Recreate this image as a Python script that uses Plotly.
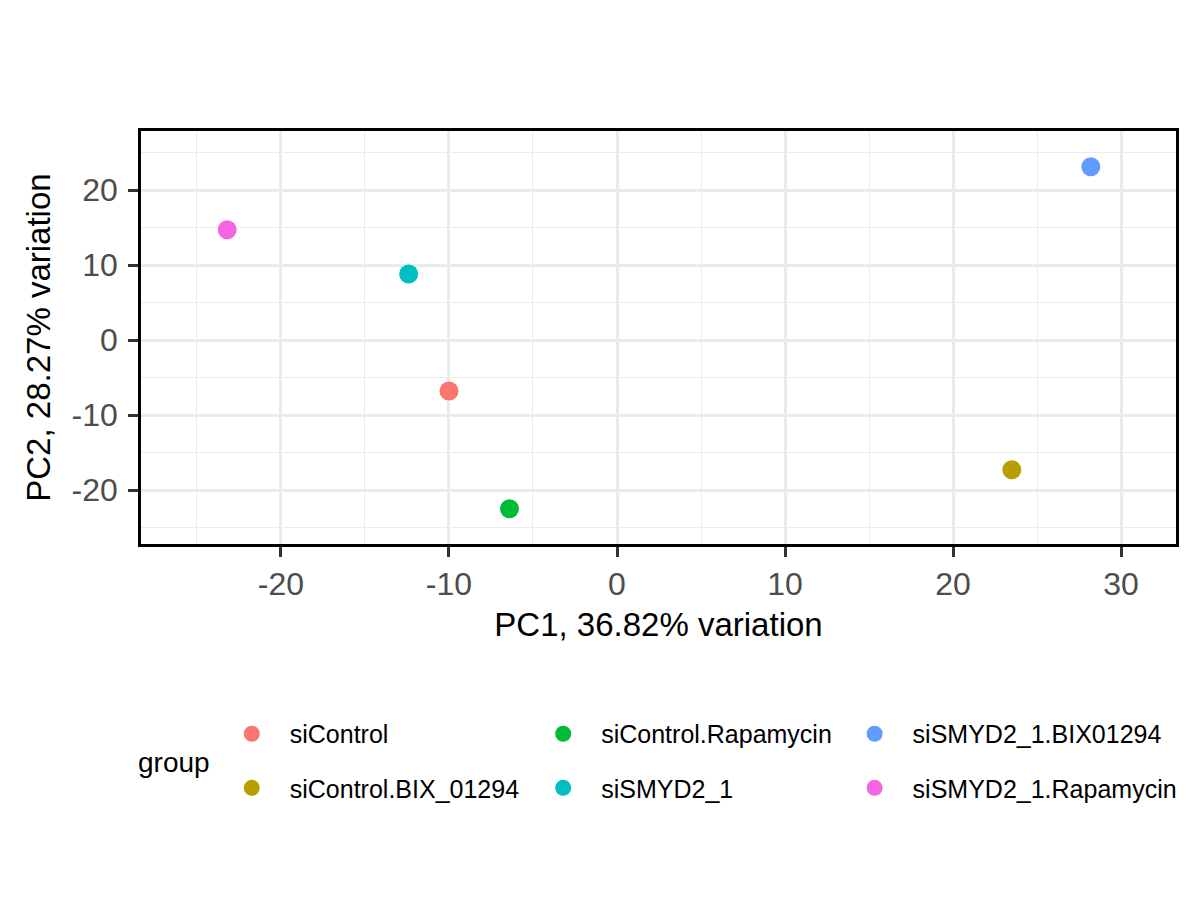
import plotly.graph_objects as go

# PCA scores per sample group
groups = [
    "siControl",
    "siControl.BIX_01294",
    "siControl.Rapamycin",
    "siSMYD2_1",
    "siSMYD2_1.BIX01294",
    "siSMYD2_1.Rapamycin",
]
pc1 = [-10.0, 23.5, -6.4, -12.4, 28.2, -23.2]
pc2 = [-6.8, -17.3, -22.5, 8.8, 23.1, 14.7]
colors = ["#F8766D", "#B79F00", "#00BA38", "#00BFC4", "#619CFF", "#F564E3"]

# ggplot prints a plain hyphen for negatives
x_ticks = [-20, -10, 0, 10, 20, 30]
x_ticklabels = ["-20", "-10", "0", "10", "20", "30"]
y_ticks = [-20, -10, 0, 10, 20]
y_ticklabels = ["-20", "-10", "0", "10", "20"]

x_title = "PC1, 36.82% variation"
y_title = "PC2, 28.27% variation"
legend_title = "group"

FONT = "Liberation Sans"
GRID = "#EBEBEB"

fig = go.Figure()

# ggplot fills the legend column-wise in 2 rows, so every entry gets
# its own small legend placed on that grid
legend_layout = {}
for i, name in enumerate(groups):
    key = "legend" if i == 0 else f"legend{i + 1}"
    col, row = divmod(i, 2)
    legend_layout[key] = dict(
        x=0.0703 + col * 0.3009,
        y=-0.46 - row * 0.131,
        xanchor="left",
        yanchor="middle",
        orientation="h",
        itemwidth=66,
        font=dict(family=FONT, size=25, color="black"),
        bgcolor="rgba(0,0,0,0)",
    )
    fig.add_trace(
        go.Scatter(
            x=[pc1[i]],
            y=[pc2[i]],
            mode="markers",
            name=name,
            marker=dict(color=colors[i], size=19),
            legend=key,
        )
    )

axis_common = dict(
    showgrid=True,
    gridcolor=GRID,
    gridwidth=2.6,
    minor=dict(showgrid=True, gridcolor=GRID, gridwidth=1.3, dtick=5),
    zeroline=False,
    showline=True,
    mirror=True,
    linecolor="black",
    linewidth=2.5,
    ticks="outside",
    ticklen=10,
    tickwidth=2.5,
    tickcolor="#333333",
    tickfont=dict(family=FONT, size=32, color="#4D4D4D"),
    tickmode="array",
)

fig.update_xaxes(
    range=[-28.33, 33.27],
    tickvals=x_ticks,
    ticktext=x_ticklabels,
    title=dict(text=x_title, font=dict(family=FONT, size=33, color="black"), standoff=12),
    ticklabelstandoff=0,
    **axis_common,
)
fig.update_yaxes(
    range=[-27.2, 27.87],
    tickvals=y_ticks,
    ticktext=y_ticklabels,
    ticklabelstandoff=4,
    **axis_common,
)

fig.update_layout(
    width=1200,
    height=900,
    margin=dict(l=133, r=32, t=123, b=364),
    plot_bgcolor="white",
    paper_bgcolor="white",
    font=dict(family=FONT),
    showlegend=True,
    annotations=[
        dict(
            text=y_title,
            xref="paper",
            yref="paper",
            x=-0.0993,
            y=0.5,
            xanchor="center",
            yanchor="middle",
            textangle=-90,
            showarrow=False,
            font=dict(family=FONT, size=33, color="black"),
        ),
        dict(
            text=legend_title,
            xref="paper",
            yref="paper",
            x=-0.005,
            y=-0.53,
            xanchor="left",
            yanchor="middle",
            showarrow=False,
            font=dict(family=FONT, size=28, color="black"),
        ),
    ],
    **legend_layout,
)

fig.write_html("out.html")
